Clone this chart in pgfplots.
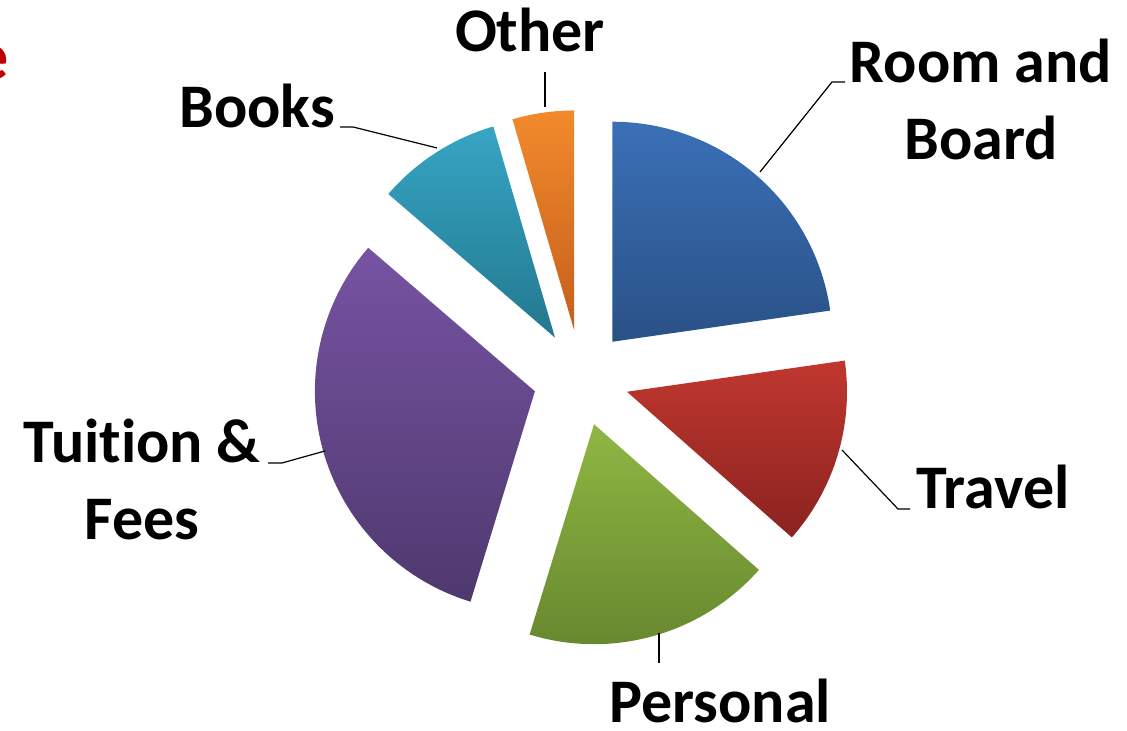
\documentclass[border=0pt]{standalone}
\usepackage{pgfplots}
\pgfplotsset{compat=1.18}
\usepackage{fontspec}
\setmainfont{Carlito}[Ligatures={NoCommon}]
\definecolor{blueT}{HTML}{3A70B7}
\definecolor{blueB}{HTML}{2A5186}
\definecolor{redT}{HTML}{C0372F}
\definecolor{redB}{HTML}{8A2320}
\definecolor{greenT}{HTML}{8FB743}
\definecolor{greenB}{HTML}{68882F}
\definecolor{purpleT}{HTML}{7753A2}
\definecolor{purpleB}{HTML}{4E396E}
\definecolor{tealT}{HTML}{36A5C4}
\definecolor{tealB}{HTML}{23788E}
\definecolor{orangeT}{HTML}{F28A2C}
\definecolor{orangeB}{HTML}{C45F1C}
\definecolor{titlered}{HTML}{C00000}

% pie geometry (pixel units of the axis)
\def\ox{581}\def\oy{353}\def\ex{48}\def\R{220}\def\total{99.4}
\def\cum{90}
\newcommand\slice[3]{%
  \pgfmathsetmacro\sa{\cum}%
  \pgfmathsetmacro\sb{\cum-360*#1/\total}%
  \pgfmathsetmacro\sm{(\sa+\sb)/2}%
  \pgfmathsetmacro\cx{\ox+\ex*cos(\sm)}%
  \pgfmathsetmacro\cy{\oy+\ex*sin(\sm)}%
  \edef\doslice{\noexpand\addplot[draw=none, top color=#2, bottom color=#3,
     domain=\sb:\sa, samples=80, variable=\noexpand\t]
     ({\cx+\R*cos(\noexpand\t)},{\cy+\R*sin(\noexpand\t)}) -- (axis cs:\cx,\cy) -- cycle;}%
  \doslice
  \xdef\cum{\sb}%
}

\begin{document}
\begin{tikzpicture}
\useasboundingbox (0,0) rectangle (563.5pt,365.5pt);
\clip (0,0) rectangle (563.5pt,365.5pt);
\begin{axis}[at={(0,0)}, anchor=south west, scale only axis,
  width=563.5pt, height=365.5pt,
  xmin=0, xmax=1127, ymin=0, ymax=731,
  axis lines=none, clip=false]
% values (share of total), clockwise from 12 o'clock
\slice{22.6}{blueT}{blueB}     % Room and Board
\slice{13.7}{redT}{redB}       % Travel
\slice{18.1}{greenT}{greenB}   % Personal
\slice{31.4}{purpleT}{purpleB} % Tuition & Fees
\slice{9.1}{tealT}{tealB}      % Books
\slice{4.5}{orangeT}{orangeB}  % Other

% leader lines
\draw[black, line width=0.6pt] (axis cs:760,559) -- (axis cs:832,649) -- (axis cs:845,649);
\draw[black, line width=0.6pt] (axis cs:842,281) -- (axis cs:898,222) -- (axis cs:910,222);
\draw[black, line width=0.6pt] (axis cs:659,98) -- (axis cs:659,68);
\draw[black, line width=0.6pt] (axis cs:325,280) -- (axis cs:282,268) -- (axis cs:268,268);
\draw[black, line width=0.6pt] (axis cs:437,583) -- (axis cs:353,604) -- (axis cs:340,604);
\draw[black, line width=0.6pt] (axis cs:545,624) -- (axis cs:545,659);

% labels
\tikzset{lab/.style={anchor=base, inner sep=0pt, font=\fontsize{31}{36}\selectfont\bfseries}}
\node[lab] at (axis cs:530,679) {Other};
\node[lab] at (axis cs:981,648) {Room and};
\node[lab] at (axis cs:981,571) {Board};
\node[lab] at (axis cs:257,603) {Books};
\node[lab] at (axis cs:142,268) {Tuition \&};
\node[lab] at (axis cs:142,191) {Fees};
\node[lab] at (axis cs:993,222) {Travel};
\node[lab] at (axis cs:720,8) {Personal};
\node[anchor=base east, inner sep=0pt, text=titlered, font=\fontsize{34}{40}\selectfont\bfseries] at (axis cs:9,651) {e};
\end{axis}
\end{tikzpicture}
\end{document}
